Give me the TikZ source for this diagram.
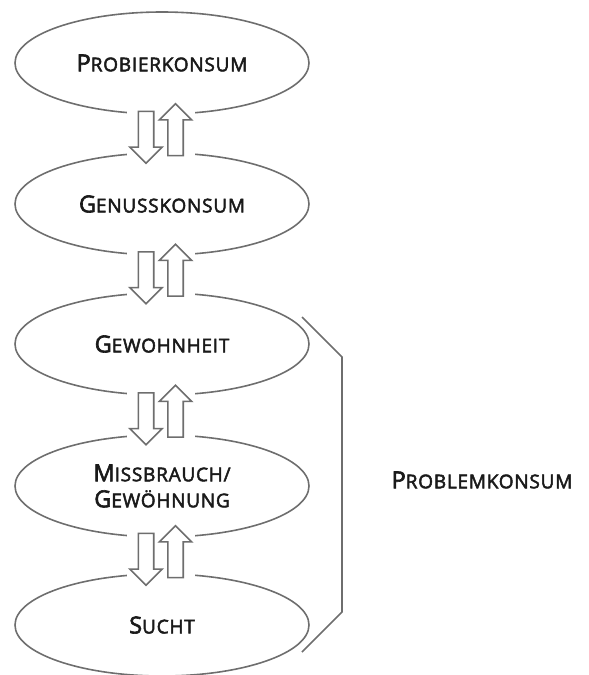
\documentclass[tikz,border=0pt]{standalone}
\usepackage{fontspec}
\newfontfamily\stagefont{Open Sans}[FakeBold=2.6, LetterSpace=4]
\usetikzlibrary{shapes.geometric, shapes.arrows}

\definecolor{linegray}{HTML}{6E6E6E}
\definecolor{textblack}{HTML}{1A1A1A}
% large first letter, the rest as small capitals
\newcommand{\capw}[2]{#1{\fontsize{19}{26}\selectfont #2}}

\begin{document}
\begin{tikzpicture}[x=1pt, y=1pt]
\tikzstyle{stage}=[ellipse, draw=linegray, line width=1.6pt, minimum width=294pt, minimum height=102pt, inner sep=0pt, text=textblack, font=\stagefont\fontsize{23.5}{26}\selectfont, align=center]
\tikzstyle{gapbox}=[fill=white, minimum width=68pt, minimum height=52pt, inner sep=0pt]
\tikzstyle{blockarrow}=[single arrow, draw=linegray, fill=white, line width=1.6pt, inner sep=6.9pt, minimum height=52pt, single arrow head extend=8.5pt]
\tikzstyle{bracketline}=[draw=linegray, line width=1.6pt]

\useasboundingbox (0,0) rectangle (589,-675);

\node[stage] (probier) at (162,-63) {\capw{P}{ROBIERKONSUM}};
\node[stage] (genuss) at (162,-204) {\capw{G}{ENUSSKONSUM}};
\node[stage] (gewohn) at (162,-344) {\capw{G}{EWOHNHEIT}};
\node[stage] (missbr) at (162,-486) {\capw{M}{ISSBRAUCH/}\\\capw{G}{EWÖHNUNG}};
\node[stage] (sucht) at (162,-625) {\capw{S}{UCHT}};

\foreach \a/\b in {probier/genuss, genuss/gewohn, gewohn/missbr, missbr/sucht} {
  \path (\a) -- (\b) coordinate[midway] (m-\a);
  \node[gapbox] at ([xshift=-1pt]m-\a) {};
  \node[blockarrow, shape border rotate=270] (down-\a) at ([xshift=-16pt]m-\a) {};
  \node[blockarrow, shape border rotate=90] (up-\a) at ([xshift=13.5pt]m-\a) {};
}

\coordinate (brtop) at ([shift={(140pt,27pt)}]gewohn.center);
\coordinate (brbot) at ([shift={(140pt,-27pt)}]sucht.center);
\draw[bracketline] (brtop) -- ++(40,-40) |- ([shift={(40,40)}]brbot) -- (brbot);

\node[text=textblack, font=\stagefont\fontsize{23.5}{26}\selectfont] (problem) at (482,-480) {\capw{P}{ROBLEMKONSUM}};

\end{tikzpicture}
\end{document}
